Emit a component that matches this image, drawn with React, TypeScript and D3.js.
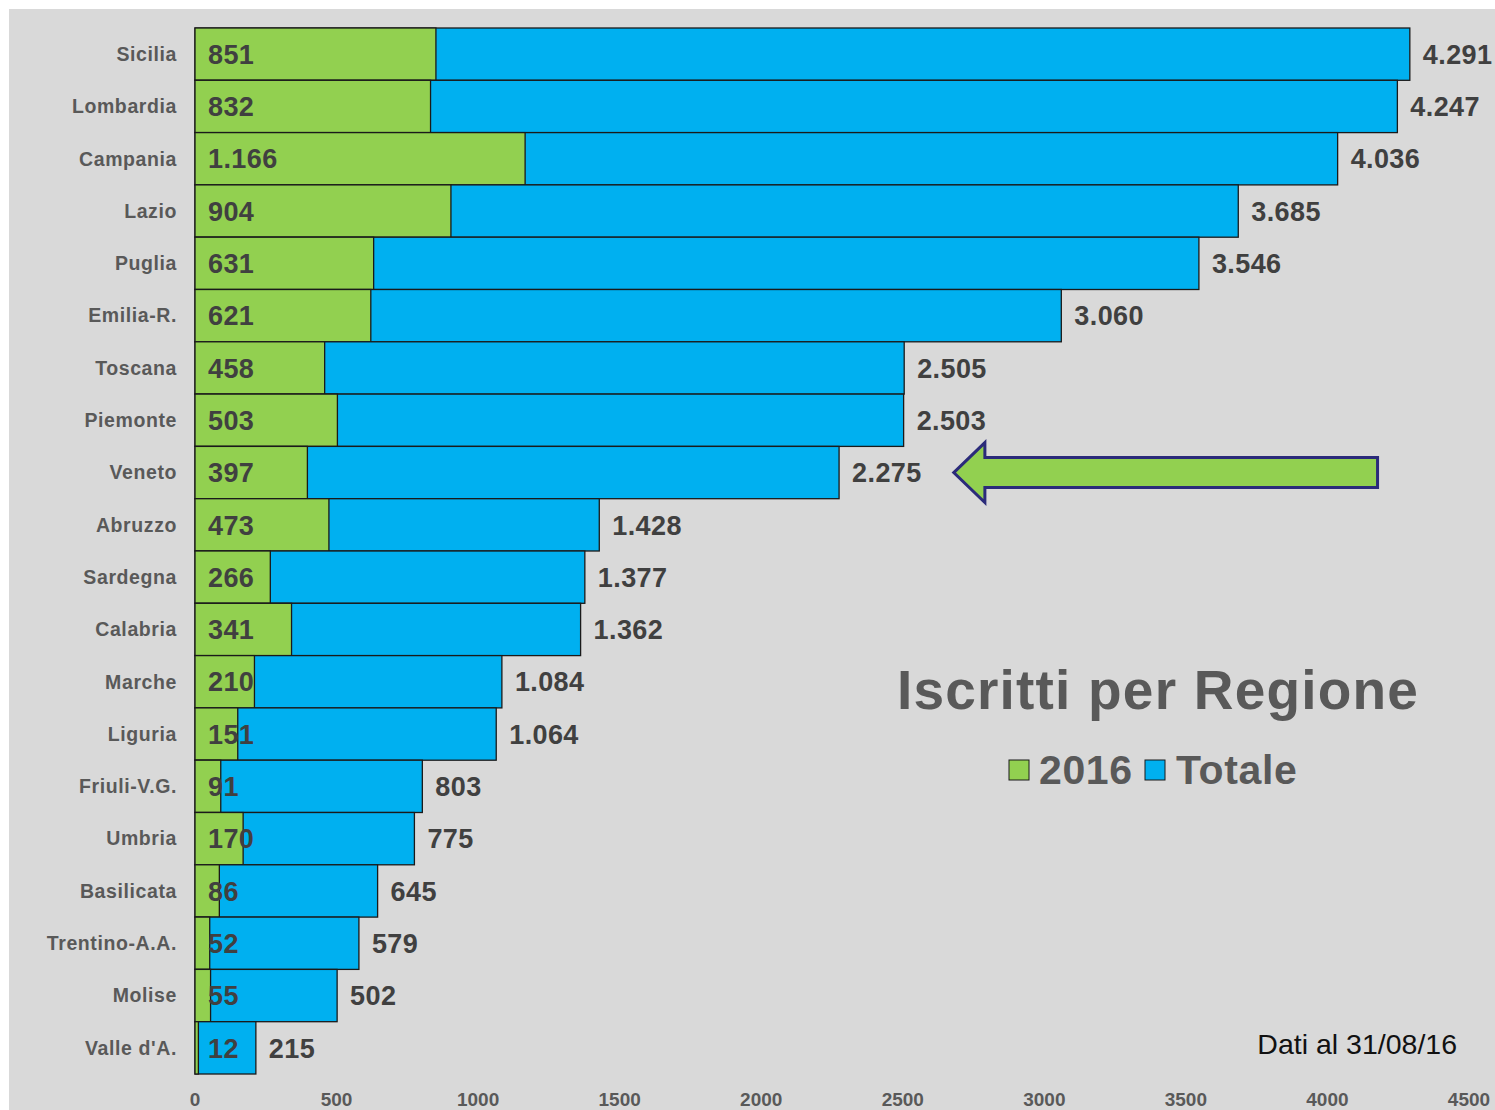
import React from 'react'
import * as d3 from 'd3'

const regions = ['Sicilia', 'Lombardia', 'Campania', 'Lazio', 'Puglia', 'Emilia-R.', 'Toscana', 'Piemonte', 'Veneto', 'Abruzzo', 'Sardegna', 'Calabria', 'Marche', 'Liguria', 'Friuli-V.G.', 'Umbria', 'Basilicata', 'Trentino-A.A.', 'Molise', "Valle d'A."]
const iscritti2016 = [851, 832, 1166, 904, 631, 621, 458, 503, 397, 473, 266, 341, 210, 151, 91, 170, 86, 52, 55, 12]
const totale = [4291, 4247, 4036, 3685, 3546, 3060, 2505, 2503, 2275, 1428, 1377, 1362, 1084, 1064, 803, 775, 645, 579, 502, 215]
const xTicks = [0, 500, 1000, 1500, 2000, 2500, 3000, 3500, 4000, 4500]

const W = 1495
const H = 1110
const GREEN = '#92d050'
const BLUE = '#00b0f0'
const FONT = '"Liberation Sans", Arial, sans-serif'

const it = d3.formatLocale({ decimal: ',', thousands: '.', grouping: [3], currency: ['€', ''] })
const fmt = it.format(',d')

export default function App() {
  const x = d3.scaleLinear().domain([0, 4500]).range([195, 1469])
  const y = d3.scaleBand().domain(regions).range([28, 1074]).padding(0)
  const bh = y.bandwidth()

  // arrow pointing at Veneto
  const vy = (y('Veneto') || 0) + bh / 2
  const tipX = x(2680)
  const headX = x(2790)
  const tailX = x(4177)
  const arrowPts = [
    [tipX, vy],
    [headX, vy - 30],
    [headX, vy - 15],
    [tailX, vy - 15],
    [tailX, vy + 15],
    [headX, vy + 15],
    [headX, vy + 30],
  ]

  return (
    <svg width={W} height={H} style={{ position: 'absolute', left: 0, top: 0 }} fontFamily={FONT}>
      <rect x={0} y={0} width={W} height={H} fill="#fff" />
      <rect x={9} y={9} width={W - 9} height={H - 9} fill="#d9d9d9" />

      {regions.map((r, i) => {
        const y0 = y(r) || 0
        return (
          <g key={r}>
            <rect x={x(0)} y={y0} width={x(totale[i]) - x(0)} height={bh} fill={BLUE} stroke="#1a1a1a" strokeWidth={1.3} />
            <rect x={x(0)} y={y0} width={x(iscritti2016[i]) - x(0)} height={bh} fill={GREEN} stroke="#1a1a1a" strokeWidth={1.3} />
            <text x={177} y={y0 + bh / 2} dy="0.35em" textAnchor="end" fontSize={19.5} letterSpacing={0.6} fontWeight="bold" fill="#595959">{r}</text>
            <text x={208} y={y0 + bh / 2} dy="0.36em" fontSize={27} letterSpacing={0.4} fontWeight="bold" fill="#404040">{fmt(iscritti2016[i])}</text>
            <text x={x(totale[i]) + 13} y={y0 + bh / 2} dy="0.36em" fontSize={27} letterSpacing={0.4} fontWeight="bold" fill="#404040">{fmt(totale[i])}</text>
          </g>
        )
      })}

      {xTicks.map((t) => (
        <text key={t} x={x(t)} y={1106} textAnchor="middle" fontSize={19} fontWeight="bold" fill="#595959">{t}</text>
      ))}

      <polygon points={arrowPts.map((p) => p.join(',')).join(' ')} fill={GREEN} stroke="#2b2b7a" strokeWidth={3} />

      <text x={1158} y={709} textAnchor="middle" fontSize={55} letterSpacing={1.2} fontWeight="bold" fill="#595959">Iscritti per Regione</text>

      <rect x={1009} y={760} width={20} height={20} fill={GREEN} stroke="#1a1a1a" strokeWidth={1} />
      <text x={1039} y={784} fontSize={41} letterSpacing={0.6} fontWeight="bold" fill="#595959">2016</text>
      <rect x={1145} y={760} width={20} height={20} fill={BLUE} stroke="#1a1a1a" strokeWidth={1} />
      <text x={1176} y={784} fontSize={41} letterSpacing={0.6} fontWeight="bold" fill="#595959">Totale</text>

      <text x={1457} y={1054} textAnchor="end" fontSize={28.5} fill="#111">Dati al 31/08/16</text>
    </svg>
  )
}
